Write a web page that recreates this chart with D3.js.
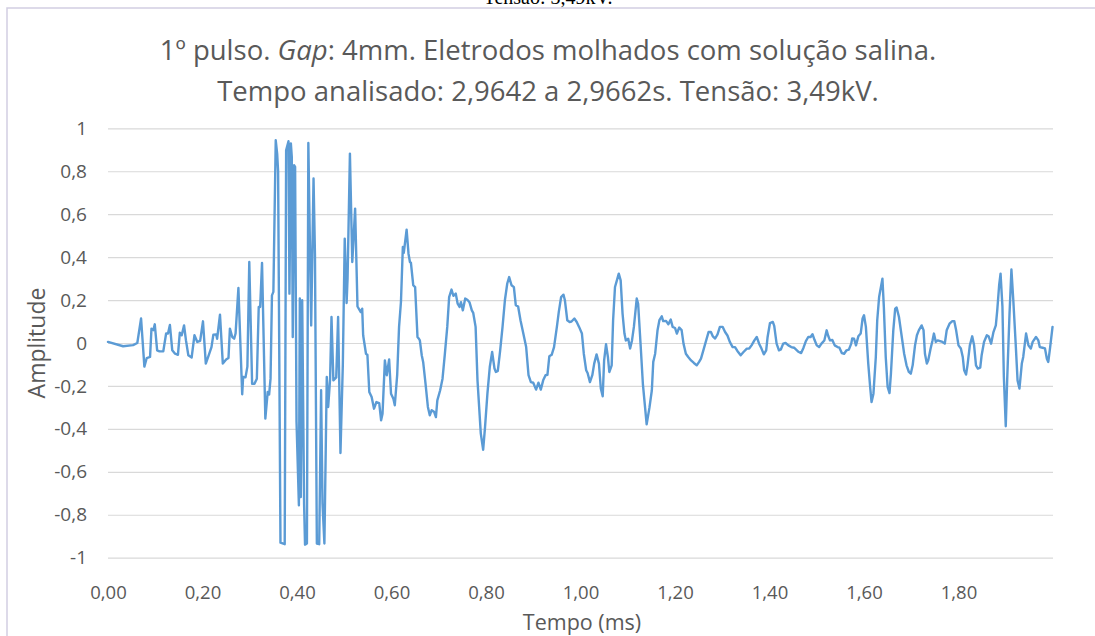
<!DOCTYPE html>
<html>
<head>
<meta charset="utf-8">
<script src="https://cdn.jsdelivr.net/npm/d3@7/dist/d3.min.js"></script>
<style>
  html, body { margin: 0; padding: 0; background: #fff; }
  svg { display: block; }
</style>
</head>
<body>
<svg id="chart" width="1095" height="636"></svg>
<script>
// Sinal medido: tempo (ms) e amplitude normalizada
const tempo = [
  0.000, 0.032, 0.053, 0.062, 0.070, 0.077, 0.082, 0.089, 0.092, 0.096,
  0.099, 0.104, 0.109, 0.117, 0.123, 0.127, 0.131, 0.136, 0.142, 0.148,
  0.152, 0.156, 0.161, 0.165, 0.170, 0.177, 0.183, 0.189, 0.195, 0.201,
  0.207, 0.212, 0.219, 0.223, 0.229, 0.231, 0.237, 0.243, 0.250, 0.255,
  0.258, 0.263, 0.267, 0.270, 0.276, 0.284, 0.286, 0.291, 0.295, 0.299,
  0.305, 0.310, 0.315, 0.319, 0.322, 0.326, 0.333, 0.338, 0.341, 0.344,
  0.347, 0.350, 0.355, 0.358, 0.360, 0.365, 0.374, 0.377, 0.382, 0.384,
  0.387, 0.389, 0.391, 0.394, 0.396, 0.399, 0.404, 0.406, 0.408, 0.411,
  0.415, 0.417, 0.421, 0.424, 0.430, 0.435, 0.438, 0.442, 0.447, 0.451,
  0.454, 0.458, 0.463, 0.466, 0.470, 0.473, 0.477, 0.483, 0.487, 0.492,
  0.497, 0.501, 0.505, 0.507, 0.512, 0.517, 0.523, 0.528, 0.535, 0.538,
  0.540, 0.546, 0.549, 0.553, 0.558, 0.563, 0.568, 0.574, 0.578, 0.581,
  0.586, 0.590, 0.595, 0.599, 0.604, 0.607, 0.612, 0.616, 0.620, 0.624,
  0.626, 0.632, 0.636, 0.639, 0.641, 0.646, 0.650, 0.655, 0.658, 0.660,
  0.664, 0.667, 0.672, 0.677, 0.681, 0.685, 0.690, 0.694, 0.697, 0.703,
  0.708, 0.713, 0.718, 0.722, 0.727, 0.731, 0.736, 0.740, 0.744, 0.747,
  0.751, 0.756, 0.761, 0.765, 0.770, 0.773, 0.778, 0.782, 0.789, 0.794,
  0.798, 0.803, 0.808, 0.813, 0.818, 0.821, 0.825, 0.830, 0.835, 0.840,
  0.845, 0.849, 0.854, 0.859, 0.863, 0.868, 0.873, 0.879, 0.885, 0.890,
  0.895, 0.900, 0.906, 0.911, 0.916, 0.921, 0.926, 0.930, 0.934, 0.939,
  0.944, 0.950, 0.954, 0.959, 0.964, 0.967, 0.972, 0.977, 0.981, 0.987,
  0.992, 0.997, 1.003, 1.007, 1.012, 1.015, 1.020, 1.025, 1.029, 1.034,
  1.039, 1.043, 1.047, 1.050, 1.054, 1.058, 1.061, 1.066, 1.069, 1.073,
  1.077, 1.081, 1.085, 1.089, 1.093, 1.096, 1.101, 1.105, 1.109, 1.113,
  1.119, 1.122, 1.127, 1.132, 1.140, 1.146, 1.151, 1.154, 1.158, 1.163,
  1.167, 1.172, 1.175, 1.181, 1.186, 1.191, 1.195, 1.200, 1.204, 1.209,
  1.214, 1.218, 1.223, 1.228, 1.234, 1.240, 1.246, 1.251, 1.255, 1.260,
  1.266, 1.271, 1.276, 1.280, 1.285, 1.290, 1.295, 1.301, 1.306, 1.311,
  1.316, 1.322, 1.327, 1.332, 1.339, 1.345, 1.352, 1.357, 1.362, 1.368,
  1.373, 1.378, 1.383, 1.388, 1.393, 1.396, 1.401, 1.407, 1.410, 1.415,
  1.420, 1.424, 1.429, 1.434, 1.440, 1.446, 1.452, 1.458, 1.462, 1.467,
  1.472, 1.477, 1.482, 1.487, 1.491, 1.495, 1.500, 1.505, 1.510, 1.516,
  1.521, 1.524, 1.528, 1.533, 1.538, 1.544, 1.548, 1.553, 1.558, 1.563,
  1.568, 1.573, 1.575, 1.579, 1.583, 1.588, 1.593, 1.597, 1.600, 1.604,
  1.609, 1.613, 1.616, 1.620, 1.625, 1.628, 1.632, 1.639, 1.642, 1.646,
  1.650, 1.654, 1.657, 1.662, 1.666, 1.669, 1.674, 1.680, 1.685, 1.690,
  1.695, 1.699, 1.703, 1.708, 1.712, 1.716, 1.722, 1.726, 1.729, 1.733,
  1.736, 1.741, 1.745, 1.748, 1.752, 1.756, 1.761, 1.766, 1.771, 1.775,
  1.781, 1.787, 1.791, 1.795, 1.800, 1.805, 1.809, 1.812, 1.816, 1.819,
  1.824, 1.829, 1.833, 1.837, 1.841, 1.846, 1.849, 1.854, 1.860, 1.864,
  1.869, 1.874, 1.879, 1.882, 1.886, 1.889, 1.893, 1.896, 1.900, 1.903,
  1.908, 1.912, 1.916, 1.921, 1.925, 1.929, 1.934, 1.937, 1.943, 1.948,
  1.953, 1.957, 1.964, 1.969, 1.972, 1.978, 1.983, 1.987, 1.990, 1.994,
  1.999
];
const amplitude = [
  0.005, -0.015, -0.010, 0.000, 0.114, -0.110, -0.070, -0.065, 0.067, 0.060,
  0.087, -0.034, -0.039, -0.039, 0.044, 0.044, 0.084, -0.034, -0.050, -0.055,
  0.048, 0.036, 0.082, 0.012, -0.057, -0.068, 0.036, 0.005, 0.010, 0.101,
  -0.096, -0.065, -0.019, 0.039, 0.040, 0.020, 0.132, -0.096, -0.077, -0.070,
  0.067, 0.028, 0.020, 0.044, 0.256, -0.239, -0.158, -0.160, -0.110, 0.377,
  -0.190, -0.190, -0.166, 0.168, 0.168, 0.373, -0.352, -0.228, -0.240, -0.166,
  0.222, 0.238, 0.944, 0.882, 0.800, -0.930, -0.937, 0.898, 0.940, 0.230,
  0.930, 0.866, 0.028, 0.828, 0.820, -0.368, -0.756, 0.207, -0.717, 0.199,
  -0.750, -0.939, -0.934, 0.932, 0.082, 0.766, 0.416, -0.934, -0.937, -0.220,
  -0.748, -0.934, -0.158, -0.298, -0.170, 0.121, -0.174, -0.160, 0.121, -0.512,
  -0.100, 0.486, 0.186, 0.300, 0.882, 0.377, 0.626, 0.170, 0.144, 0.160,
  0.036, -0.050, -0.055, -0.228, -0.252, -0.306, -0.275, -0.280, -0.360, -0.330,
  -0.081, -0.150, -0.077, -0.236, -0.260, -0.290, -0.150, 0.075, 0.191, 0.447,
  0.420, 0.528, 0.416, 0.377, 0.375, 0.269, 0.260, 0.028, 0.020, 0.012,
  -0.057, -0.088, -0.189, -0.298, -0.337, -0.313, -0.320, -0.345, -0.267, -0.220,
  -0.166, -0.050, 0.075, 0.214, 0.249, 0.220, 0.230, 0.183, 0.168, 0.190,
  0.152, 0.207, 0.200, 0.190, 0.152, 0.140, 0.075, -0.174, -0.422, -0.497,
  -0.391, -0.236, -0.112, -0.042, -0.119, -0.135, -0.130, -0.034, 0.075, 0.199,
  0.277, 0.307, 0.269, 0.260, 0.176, 0.170, 0.106, 0.044, -0.019, -0.150,
  -0.182, -0.185, -0.217, -0.185, -0.217, -0.174, -0.150, -0.148, -0.062, -0.055,
  -0.019, 0.075, 0.144, 0.214, 0.225, 0.199, 0.106, 0.098, 0.100, 0.114,
  0.098, 0.075, 0.044, -0.050, -0.127, -0.140, -0.182, -0.150, -0.096, -0.053,
  -0.096, -0.212, -0.248, -0.081, -0.006, -0.065, -0.135, -0.104, 0.106, 0.261,
  0.292, 0.323, 0.292, 0.137, 0.044, 0.012, 0.020, -0.026, 0.012, 0.075,
  0.207, 0.183, 0.000, -0.190, -0.379, -0.300, -0.220, -0.088, -0.050, 0.059,
  0.106, 0.124, 0.102, 0.103, 0.087, 0.109, 0.075, 0.070, 0.044, 0.072,
  0.060, -0.003, -0.050, -0.065, -0.081, -0.093, -0.104, -0.088, -0.073, -0.034,
  0.012, 0.051, 0.051, 0.031, 0.021, 0.040, 0.075, 0.075, 0.051, 0.035,
  0.005, -0.019, -0.019, -0.037, -0.057, -0.042, -0.026, -0.026, -0.011, 0.012,
  0.028, -0.003, -0.026, -0.053, -0.034, 0.028, 0.093, 0.098, 0.080, -0.003,
  -0.034, -0.030, -0.003, 0.000, -0.011, -0.019, -0.022, -0.034, -0.042, -0.047,
  -0.022, 0.009, 0.028, 0.028, 0.041, 0.016, -0.011, -0.019, -0.003, 0.012,
  0.059, 0.035, 0.012, 0.014, -0.011, -0.019, -0.022, -0.047, -0.050, -0.034,
  -0.031, -0.003, 0.021, 0.020, -0.011, 0.031, 0.044, 0.114, 0.129, 0.075,
  -0.096, -0.205, -0.275, -0.236, -0.065, 0.106, 0.214, 0.300, 0.168, -0.065,
  -0.205, -0.233, -0.143, 0.059, 0.160, 0.165, 0.121, 0.028, -0.050, -0.104,
  -0.135, -0.143, -0.104, -0.011, 0.036, 0.059, 0.082, 0.060, -0.050, -0.096,
  -0.080, -0.026, 0.012, 0.044, 0.005, 0.012, 0.009, 0.005, -0.003, 0.059,
  0.090, 0.102, 0.102, 0.059, -0.011, -0.026, -0.065, -0.127, -0.147, -0.104,
  -0.011, 0.031, -0.011, -0.104, -0.119, -0.115, -0.057, 0.005, 0.036, 0.030,
  -0.003, 0.051, 0.082, 0.152, 0.269, 0.323, 0.168, -0.158, -0.388, -0.174,
  0.137, 0.342, 0.199, -0.003, -0.174, -0.212, -0.096, -0.065, 0.044, -0.011,
  -0.026, 0.005, 0.028, 0.012, -0.019, -0.022, -0.025, -0.073, -0.088, -0.019,
  0.075
];

// Marcas dos eixos
const xTicks = [0, 0.2, 0.4, 0.6, 0.8, 1.0, 1.2, 1.4, 1.6, 1.8];
const yTicks = [-1, -0.8, -0.6, -0.4, -0.2, 0, 0.2, 0.4, 0.6, 0.8, 1];

// Textos
const titleLines = [
  [["1º pulso. ", false], ["Gap", true], [": 4mm. Eletrodos molhados com solução salina.", false]],
  [["Tempo analisado: 2,9642 a 2,9662s. Tensão: 3,49kV.", false]]
];
const headerText = "Tensão: 3,49kV.";
const xTitle = "Tempo (ms)";
const yTitle = "Amplitude";

const W = 1095, H = 636;
const plot = { left: 108, right: 1053, top: 128.3, bottom: 557.7 };
const font = "'Open Sans', 'Noto Sans', sans-serif";
const textColor = "#595959";

const ptBR = d3.formatLocale({ decimal: ",", thousands: ".", grouping: [3], currency: ["R$", ""], minus: "-" });
const fmtX = ptBR.format(".2f");
const fmtY = ptBR.format(".1~f");

const svg = d3.select("#chart");

const x = d3.scaleLinear().domain([0, 2]).range([plot.left, plot.right]);
const y = d3.scaleLinear().domain([-1, 1]).range([plot.bottom, plot.top]);

// Texto parcialmente visível acima do quadro
svg.append("text")
  .attr("x", 548).attr("y", 4)
  .attr("text-anchor", "middle")
  .attr("font-family", "'Liberation Serif', 'DejaVu Serif', serif")
  .attr("font-size", 20)
  .attr("fill", "#000")
  .text(headerText);

// Moldura do gráfico
svg.append("rect")
  .attr("x", 7).attr("y", 8)
  .attr("width", W + 10).attr("height", H + 10)
  .attr("fill", "none")
  .attr("stroke", "#d2cee2")
  .attr("stroke-width", 1.5);

// Título
const title = svg.append("g").attr("font-family", font).attr("fill", textColor).attr("font-size", 27.5);
titleLines.forEach((parts, i) => {
  const t = title.append("text")
    .attr("x", 548).attr("y", 60 + i * 41)
    .attr("text-anchor", "middle");
  parts.forEach(([s, it]) => {
    t.append("tspan").attr("font-style", it ? "italic" : "normal").text(s);
  });
});

// Linhas de grade horizontais
const yAxis = d3.axisLeft(y).tickValues(yTicks).tickFormat(fmtY)
  .tickSize(-(plot.right - plot.left)).tickPadding(21);
svg.append("g")
  .attr("transform", `translate(${plot.left},0)`)
  .call(yAxis)
  .call(g => g.select(".domain").remove())
  .call(g => g.selectAll(".tick line").attr("stroke", "#d9d9d9").attr("stroke-width", 1.2))
  .call(g => g.selectAll(".tick text")
    .attr("font-family", font).attr("font-size", 19).attr("fill", textColor));

// Eixo das abscissas (apenas rótulos)
const xAxis = d3.axisBottom(x).tickValues(xTicks).tickFormat(fmtX).tickSize(0).tickPadding(0);
svg.append("g")
  .attr("transform", `translate(0,${plot.bottom + 28})`)
  .call(xAxis)
  .call(g => g.select(".domain").remove())
  .call(g => g.selectAll(".tick text")
    .attr("font-family", font).attr("font-size", 18.5).attr("fill", textColor));

// Série
const pts = tempo.map((t, i) => [t, amplitude[i]]);
const line = d3.line().x(d => x(d[0])).y(d => y(d[1]));
svg.append("path")
  .datum(pts)
  .attr("d", line)
  .attr("fill", "none")
  .attr("stroke", "#5b9bd5")
  .attr("stroke-width", 2.4)
  .attr("stroke-linejoin", "round")
  .attr("stroke-linecap", "round");

// Títulos dos eixos
svg.append("text")
  .attr("x", 582).attr("y", 630)
  .attr("text-anchor", "middle")
  .attr("font-family", font).attr("font-size", 21.5).attr("fill", textColor)
  .text(xTitle);

svg.append("text")
  .attr("transform", `translate(45,${(plot.top + plot.bottom) / 2}) rotate(-90)`)
  .attr("text-anchor", "middle")
  .attr("font-family", font).attr("font-size", 23).attr("fill", textColor)
  .text(yTitle);
</script>
</body>
</html>
